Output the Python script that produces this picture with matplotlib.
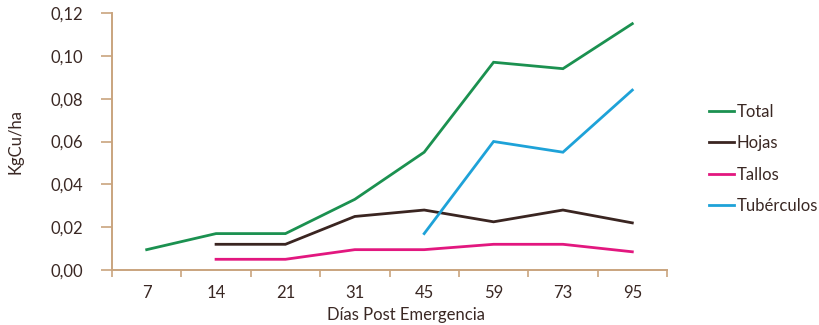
import matplotlib
matplotlib.use("Agg")
import matplotlib.pyplot as plt
from matplotlib.lines import Line2D
from matplotlib.ticker import FixedLocator, FuncFormatter

plt.rcParams['font.family'] = ['Lato', 'DejaVu Sans']

dias = ["7", "14", "21", "31", "45", "59", "73", "95"]
total = [0.0095, 0.017, 0.017, 0.033, 0.055, 0.097, 0.094, 0.115]
hojas = [None, 0.012, 0.012, 0.025, 0.028, 0.0225, 0.028, 0.022]
tallos = [None, 0.005, 0.005, 0.0095, 0.0095, 0.012, 0.012, 0.0085]
tuberculos = [None, None, None, None, 0.017, 0.060, 0.055, 0.084]

series = [
    ("Total", total, "#1b9150"),
    ("Hojas", hojas, "#3a2521"),
    ("Tallos", tallos, "#e2177f"),
    ("Tubérculos", tuberculos, "#1ea2d8"),
]

axis_col = "#c9a47e"
text_col = "#3a2824"

fig = plt.figure(figsize=(8.2, 3.25), dpi=100)
ax = fig.add_axes([112 / 820, 1 - 270 / 325, (667 - 112) / 820, (270 - 13) / 325])

x_all = list(range(len(dias)))
for name, vals, col in series:
    xs = [i for i, v in zip(x_all, vals) if v is not None]
    ys = [v for v in vals if v is not None]
    ax.plot(xs, ys, color=col, lw=2.0, solid_joinstyle="miter")

ax.set_xlim(-0.5, len(dias) - 0.5)
ax.set_ylim(0, 0.12)

ax.set_xticks(x_all)
ax.set_xticklabels(dias)
ax.xaxis.set_minor_locator(FixedLocator([i - 0.5 for i in range(len(dias) + 1)]))
ax.tick_params(axis="x", which="major", length=0, pad=11, labelsize=12, labelcolor=text_col)
ax.tick_params(axis="x", which="minor", length=5, width=1.2, color=axis_col)

ax.set_yticks([0, 0.02, 0.04, 0.06, 0.08, 0.10, 0.12])
ax.yaxis.set_major_formatter(FuncFormatter(lambda v, p: f"{v:.2f}".replace(".", ",")))
ax.tick_params(axis="y", length=8, width=1.2, color=axis_col, pad=13, labelsize=12, labelcolor=text_col)

for side in ("top", "right"):
    ax.spines[side].set_visible(False)
for side in ("left", "bottom"):
    ax.spines[side].set_color(axis_col)
    ax.spines[side].set_linewidth(1.4)
ax.spines["left"].set_bounds(0, 0.12)

ax.set_xlabel("Días Post Emergencia", fontsize=12, color=text_col, labelpad=4)
ax.xaxis.label.set_x(0.53)
ax.set_ylabel("KgCu/ha", fontsize=12, color=text_col, labelpad=19)

handles = [Line2D([0], [0], color=c, lw=2.0) for _, _, c in series]
labels = [n for n, _, _ in series]
leg = fig.legend(handles, labels, loc="center left", bbox_to_anchor=(709 / 820, 1 - 159 / 325),
                 frameon=False, fontsize=12, handlelength=1.5, handletextpad=0.15,
                 labelspacing=0.92, labelcolor=text_col, borderpad=0, borderaxespad=0)

fig.savefig("out.png", dpi=100)
